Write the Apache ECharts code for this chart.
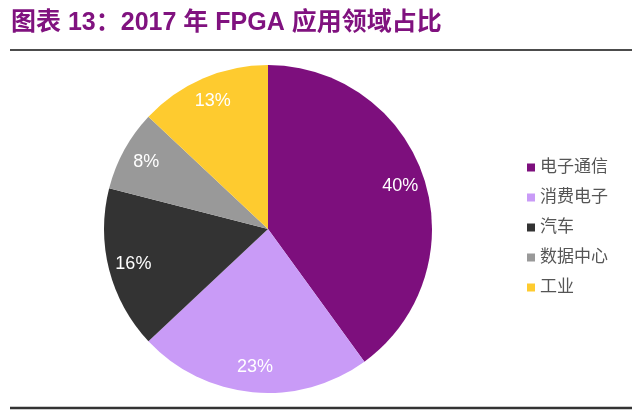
<!DOCTYPE html>
<html>
<head>
<meta charset="utf-8">
<script src="https://cdn.jsdelivr.net/npm/echarts@6/dist/echarts.min.js"></script>
<style>
  html, body { margin: 0; padding: 0; background: #fff; }
  #chart { width: 640px; height: 411px; }
</style>
</head>
<body>
<div id="chart"></div>
<script>
// 2017 FPGA application share (%)
const categories = ['电子通信', '消费电子', '汽车', '数据中心', '工业'];
const shares = [40, 23, 16, 8, 13];
const colors = ['#7d0f7d', '#c99bf7', '#333333', '#999999', '#fecb2f'];

const font = '"Liberation Sans", "Noto Sans CJK SC", sans-serif';
const pieData = categories.map((name, i) => ({name: name, value: shares[i]}));

let chart = echarts.init(document.getElementById('chart'));

chart.setOption({
    animation: false,
    color: colors,
    title: {
        text: '图表 13：2017 年 FPGA 应用领域占比',
        left: 11,
        top: 11,
        padding: 0,
        textStyle: {
            color: '#80127f',
            fontSize: 25,
            fontWeight: 'bold',
            fontFamily: font
        }
    },
    legend: {
        orient: 'vertical',
        left: 527,
        top: 159,
        padding: 0,
        itemWidth: 8,
        itemHeight: 8,
        itemGap: 13,
        icon: 'rect',
        data: categories,
        textStyle: {
            fontSize: 17,
            color: '#555555',
            fontFamily: font
        }
    },
    graphic: [
        {type: 'line', shape: {x1: 10, y1: 50, x2: 632, y2: 50}, style: {stroke: '#111', lineWidth: 1.5}},
        {type: 'line', shape: {x1: 10, y1: 408, x2: 632, y2: 408}, style: {stroke: '#333', lineWidth: 2.5}}
    ],
    series: [
        {
            type: 'pie',
            center: [268, 229],
            radius: [0, 164],
            startAngle: 90,
            silent: true,
            data: pieData,
            label: {show: false},
            labelLine: {show: false}
        },
        {
            // transparent ring that only carries the percentage labels
            type: 'pie',
            center: [268, 229],
            radius: [108, 164],
            startAngle: 90,
            silent: true,
            data: pieData,
            itemStyle: {color: 'rgba(0,0,0,0)'},
            label: {
                show: true,
                position: 'inside',
                formatter: '{c}%',
                color: '#fff',
                fontSize: 18,
                fontFamily: font
            },
            labelLine: {show: false}
        }
    ]
});
</script>
</body>
</html>
